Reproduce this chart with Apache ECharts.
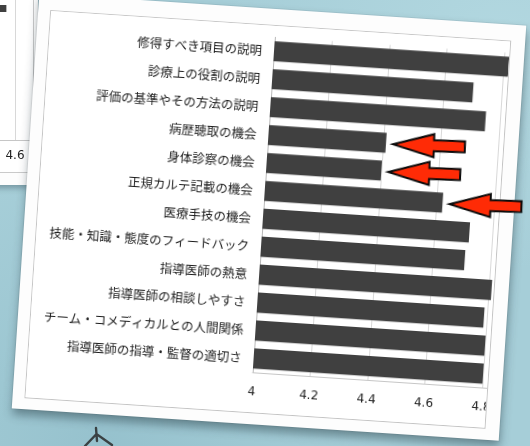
<!DOCTYPE html>
<html>
<head>
<meta charset="utf-8">
<script src="https://cdn.jsdelivr.net/npm/echarts@6/dist/echarts.min.js"></script>
<style>
  html, body { margin: 0; padding: 0; width: 530px; height: 446px; overflow: hidden; }
  body {
    position: relative;
    background:
      radial-gradient(ellipse at 20% 100%, rgba(120,170,185,0.35), rgba(120,170,185,0) 45%),
      radial-gradient(ellipse at 95% 10%, rgba(190,225,232,0.5), rgba(190,225,232,0) 40%),
      #a6ced8;
  }
  /* sheet lying underneath, top-left */
  #backSheet {
    position: absolute; left: -300px; top: -20px; width: 338px; height: 205px;
    background: #fdfdfd; box-shadow: 2px 3px 6px rgba(30,50,60,0.35);
  }
  #backFrame {
    position: absolute; left: 0; top: 0; width: 333px; height: 192px;
    overflow: hidden; background: #fff; box-shadow: 0 0 0 1px #cacaca;
  }
  #backChart { position: absolute; left: 0; top: 0; width: 480px; height: 205px; }
  /* main printed sheet */
  #sheet {
    position: absolute; left: 25px; top: 8.5px; width: 488px; height: 416px;
    background: #fdfdfd;
    transform: rotate(3.8deg); transform-origin: 50% 50%;
    box-shadow: 1px 6px 9px rgba(30,50,60,0.45), 0 0 0 1px rgba(0,0,0,0.06);
  }
  #frame {
    position: absolute; left: 13px; top: 17px; width: 460px; height: 387px;
    overflow: hidden; background: #fff; box-shadow: 0 0 0 1px #c4c4c4;
  }
  #chart { position: absolute; left: 0; top: 0; width: 560px; height: 387px; }
  #marks { position: absolute; left: 0; top: 0; width: 520px; height: 416px; pointer-events: none; }
  #doodle { position: absolute; left: 0; top: 0; }
</style>
</head>
<body>
<div id="backSheet"><div id="backFrame"><div id="backChart"></div></div></div>
<div id="sheet">
  <div id="frame"><div id="chart"></div></div>
  <div id="marks"></div>
</div>
<svg id="doodle" width="530" height="446">
  <path d="M85 446 L96.5 434 L112 445 M96 428 L97 441" fill="none" stroke="#2a2a2a" stroke-width="2.4" stroke-linecap="round" opacity="0.85"/>
</svg>
<script>
// Survey items (top to bottom) and their mean scores
const categories = [
  '修得すべき項目の説明',
  '診療上の役割の説明',
  '評価の基準やその方法の説明',
  '病歴聴取の機会',
  '身体診察の機会',
  '正規カルテ記載の機会',
  '医療手技の機会',
  '技能・知識・態度のフィードバック',
  '指導医師の熱意',
  '指導医師の相談しやすさ',
  'チーム・コメディカルとの人間関係',
  '指導医師の指導・監督の適切さ'
];
const values = [4.82, 4.70, 4.75, 4.41, 4.40, 4.62, 4.72, 4.71, 4.81, 4.79, 4.80, 4.80];

// Value axis
const axisMin = 4;
const axisMax = 5;
const axisStep = 0.2;

// Items flagged with arrows
const highlighted = ['病歴聴取の機会', '身体診察の機会', '正規カルテ記載の機会'];

// Partly hidden chart on the sheet underneath
const backCategories = categories.slice(7);
const backValues = [4.57, 4.49, 4.52, 4.50, 4.53];

const FRAME_LEFT = 13;
const FRAME_TOP = 17;
const NUM_FONT = 'DejaVu Sans';
const JP_FONT = '"Noto Sans CJK JP", "Noto Sans", sans-serif';

const chart = echarts.init(document.getElementById('chart'), null, { renderer: 'canvas' });
chart.setOption({
  animation: false,
  backgroundColor: '#ffffff',
  grid: { left: 225, top: 11.3, width: 287.5, height: 335.8, containLabel: false, outerBoundsMode: 'none' },
  xAxis: {
    type: 'value', min: axisMin, max: axisMax, interval: axisStep,
    axisLine: { show: true, lineStyle: { color: '#c6c6c6', width: 1 } },
    axisTick: { show: false },
    axisLabel: { margin: 14, fontSize: 12, color: '#222', fontFamily: NUM_FONT },
    splitLine: { show: true, lineStyle: { color: '#d8d8d8', width: 1 } }
  },
  yAxis: {
    type: 'category', data: categories, inverse: true,
    axisLine: { show: true, lineStyle: { color: '#b8b8b8', width: 1 } },
    axisTick: { show: false },
    axisLabel: { margin: 12, fontSize: 12.5, color: '#1c1c1c', fontFamily: JP_FONT }
  },
  series: [{
    type: 'bar', data: values, barCategoryGap: '28%', clip: true,
    itemStyle: { color: '#404040' }
  }]
});

// Red arrows pointing at the flagged bars
const arrowShape = [[0, 0], [41, -11.5], [41, -5.5], [72, -5.5], [72, 5.5], [41, 5.5], [41, 11.5]];
const marks = echarts.init(document.getElementById('marks'), null, { renderer: 'canvas' });
const arrows = highlighted.map(function (name) {
  const i = categories.indexOf(name);
  const p = chart.convertToPixel({ seriesIndex: 0 }, [values[i], i]);
  return {
    type: 'polygon',
    x: p[0] + FRAME_LEFT + 7,
    y: p[1] + FRAME_TOP + 1,
    rotation: 0.032,
    shape: { points: arrowShape },
    style: { fill: '#ff2b06', stroke: '#0a0a0a', lineWidth: 2, lineJoin: 'miter' }
  };
});
marks.setOption({ animation: false, graphic: arrows });

// Underlying sheet chart
const back = echarts.init(document.getElementById('backChart'), null, { renderer: 'canvas' });
back.setOption({
  animation: false,
  backgroundColor: '#ffffff',
  grid: { left: 142.5, top: 13.9, width: 287.5, height: 146.1, containLabel: false, outerBoundsMode: 'none' },
  xAxis: {
    type: 'value', min: axisMin, max: axisMax, interval: axisStep,
    axisLine: { show: true, lineStyle: { color: '#c6c6c6' } },
    axisTick: { show: false },
    axisLabel: { margin: 10, fontSize: 12, color: '#222', fontFamily: NUM_FONT },
    splitLine: { show: true, lineStyle: { color: '#d8d8d8' } }
  },
  yAxis: {
    type: 'category', data: backCategories, inverse: true,
    axisLine: { show: false }, axisTick: { show: false },
    axisLabel: { fontSize: 12, color: '#222', fontFamily: JP_FONT }
  },
  series: [{ type: 'bar', data: backValues, barWidth: 7, itemStyle: { color: '#404040' } }]
});
</script>
</body>
</html>
